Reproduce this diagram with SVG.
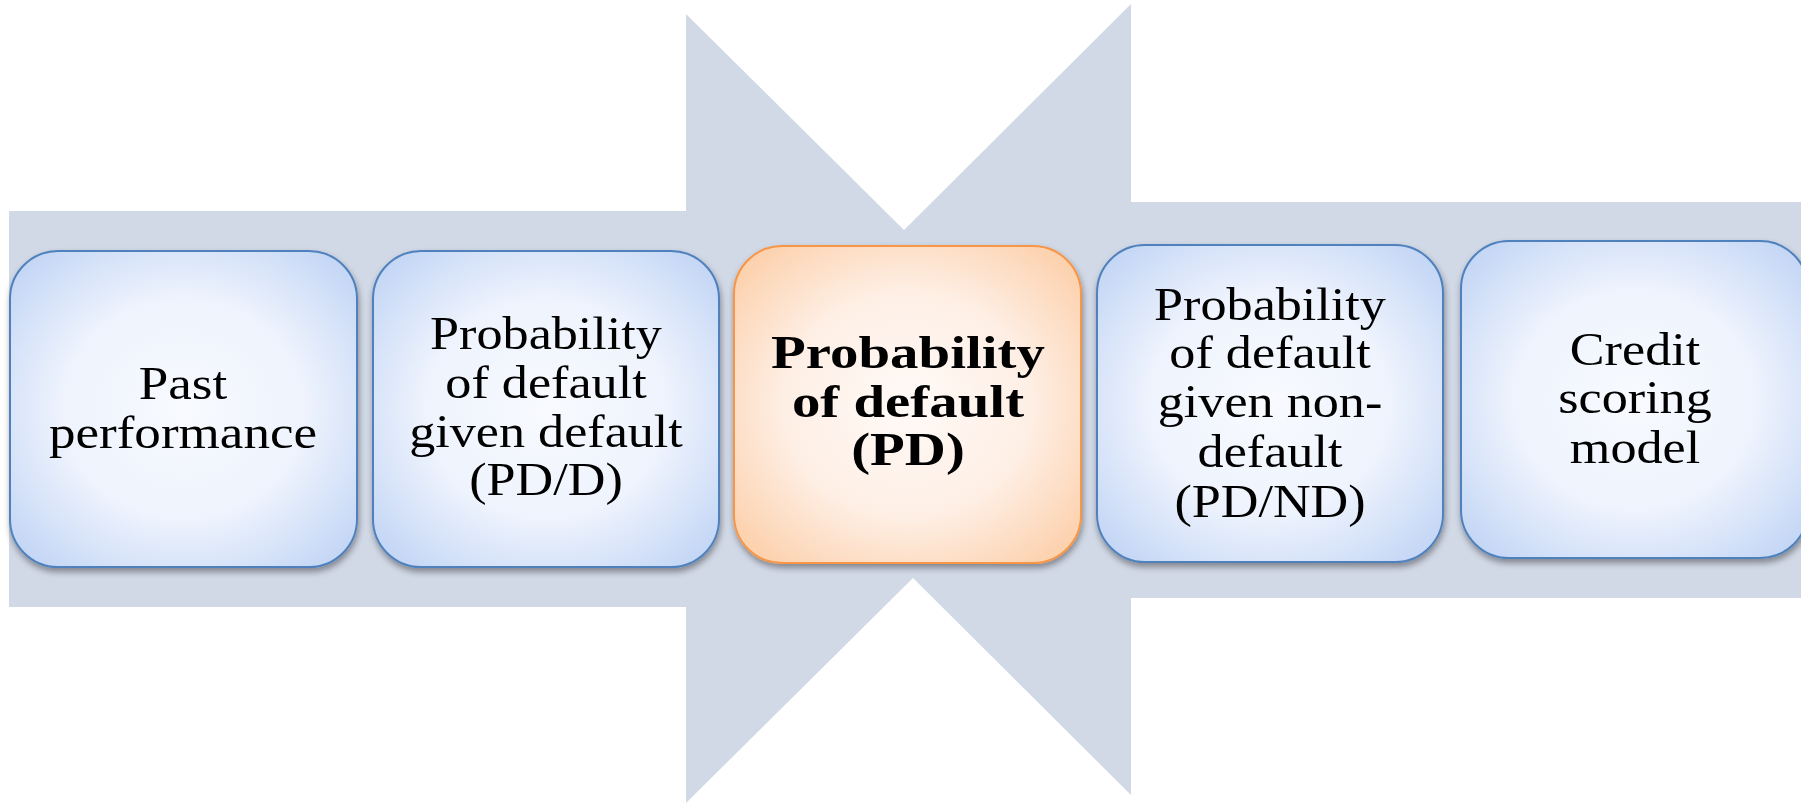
<svg xmlns="http://www.w3.org/2000/svg" width="1801" height="803" viewBox="0 0 1801 803">
  <defs>
    <radialGradient id="blueFill" cx="50%" cy="50%" r="70%">
      <stop offset="0" stop-color="#F8FAFE"/>
      <stop offset="0.5" stop-color="#EEF3FD"/>
      <stop offset="1" stop-color="#BCD1F4"/>
    </radialGradient>
    <radialGradient id="orangeFill" cx="50%" cy="50%" r="70%">
      <stop offset="0" stop-color="#FFFAF7"/>
      <stop offset="0.5" stop-color="#FEEFE5"/>
      <stop offset="1" stop-color="#FCCBA2"/>
    </radialGradient>
    <filter id="shadow" x="-10%" y="-10%" width="125%" height="125%">
      <feDropShadow dx="1" dy="4" stdDeviation="3" flood-color="#000" flood-opacity="0.38"/>
    </filter>
  </defs>
  <style>
    .box { stroke-width: 2; filter: url(#shadow); }
    .blue { fill: url(#blueFill); stroke: #4F81BD; }
    .orange { fill: url(#orangeFill); stroke: #F79646; }
    .lbl { font-family: "Liberation Serif", "Times New Roman", serif; font-size: 47px; fill: #000; text-anchor: middle; }
    .bold { font-weight: bold; }
  </style>

  <rect width="1801" height="803" fill="#FFFFFF"/>

  <!-- backdrop: two opposing arrows meeting in the middle -->
  <g id="connectors">
    <polygon fill="#D1D8E6" points="9,211 686,211 686,14 904,230 1131,4 1131,202 1801,202 1801,598 1131,598 1131,795 913,578 686,803 686,607 9,607"/>
  </g>

  <g id="node-past-performance">
    <rect class="box blue" x="10" y="251" width="347" height="316" rx="48" ry="48"/>
    <g transform="translate(183 0) scale(1.13 1)">
      <text class="lbl" x="0" y="399">Past</text>
      <text class="lbl" x="0" y="448">performance</text>
    </g>
  </g>

  <g id="node-pd-given-default">
    <rect class="box blue" x="373" y="251" width="346" height="316" rx="48" ry="48"/>
    <g transform="translate(546 0) scale(1.11 1)">
      <text class="lbl" x="0" y="349">Probability</text>
      <text class="lbl" x="0" y="398">of default</text>
      <text class="lbl" x="0" y="447">given default</text>
      <text class="lbl" x="0" y="495">(PD/D)</text>
    </g>
  </g>

  <g id="node-pd">
    <rect class="box orange" x="734" y="246" width="347" height="317" rx="48" ry="48"/>
    <g transform="translate(908 0) scale(1.21 1)">
      <text class="lbl bold" x="0" y="368">Probability</text>
      <text class="lbl bold" x="0" y="417">of default</text>
      <text class="lbl bold" x="0" y="465">(PD)</text>
    </g>
  </g>

  <g id="node-pd-given-non-default">
    <rect class="box blue" x="1097" y="245" width="346" height="317" rx="48" ry="48"/>
    <g transform="translate(1270 0) scale(1.11 1)">
      <text class="lbl" x="0" y="320">Probability</text>
      <text class="lbl" x="0" y="368">of default</text>
      <text class="lbl" x="0" y="417">given non-</text>
      <text class="lbl" x="0" y="467">default</text>
      <text class="lbl" x="0" y="517">(PD/ND)</text>
    </g>
  </g>

  <g id="node-credit-scoring">
    <rect class="box blue" x="1461" y="241" width="347" height="317" rx="48" ry="48"/>
    <g transform="translate(1635 0) scale(1.11 1)">
      <text class="lbl" x="0" y="365">Credit</text>
      <text class="lbl" x="0" y="413">scoring</text>
      <text class="lbl" x="0" y="463">model</text>
    </g>
  </g>
</svg>
